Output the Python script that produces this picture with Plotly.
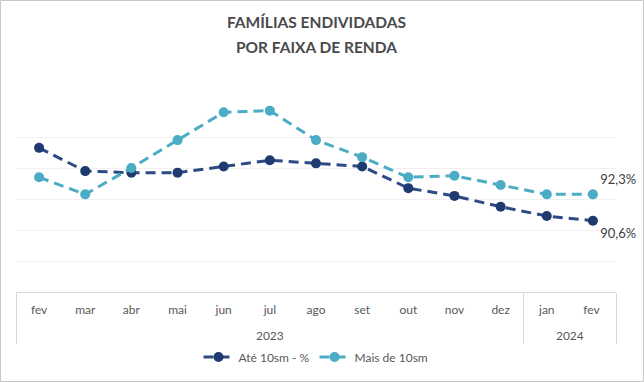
import plotly.graph_objects as go

# "<br>" in front of the year drops the group label one line lower, as in the reference
years = ["<br>2023"] * 11 + ["<br>2024"] * 2
# trailing space keeps the second "fev" a distinct category (SVG trims it when drawn)
months = ["fev", "mar", "abr", "mai", "jun", "jul", "ago", "set", "out", "nov", "dez", "jan", "fev "]
ate_10sm = [95.3, 93.8, 93.7, 93.7, 94.1, 94.5, 94.3, 94.1, 92.7, 92.2, 91.5, 90.9, 90.6]
mais_10sm = [93.4, 92.3, 94.0, 95.8, 97.6, 97.7, 95.8, 94.7, 93.4, 93.5, 92.9, 92.3, 92.3]
series_names = ["Até 10sm - %", "Mais de 10sm"]
title_lines = ["FAMÍLIAS ENDIVIDADAS", "POR FAIXA DE RENDA"]


def last_label(vals):
    out = [""] * len(vals)
    out[-1] = f"{vals[-1]:.1f}".replace(".", ",") + "%"
    return out


W, H = 644, 382
ML, MR, MT, MB = 16, 28, 106, 90
FONT = "Lato"
GRAY = "#595959"
pw = W - ML - MR
ph = H - MT - MB


def py(ypix):
    return (H - MB - ypix) / ph


fig = go.Figure()
fig.add_trace(go.Scatter(
    x=[years, months], y=ate_10sm, name=series_names[0],
    mode="lines+markers+text", text=last_label(ate_10sm),
    textposition="bottom right",
    textfont=dict(family=FONT, size=13, color="#404040"),
    line=dict(color="#2E4A82", width=3, dash="10px,6px"),
    marker=dict(color="#1F3A70", size=10),
    cliponaxis=False,
))
fig.add_trace(go.Scatter(
    x=[years, months], y=mais_10sm, name=series_names[1],
    mode="lines+markers+text", text=last_label(mais_10sm),
    textposition="top right",
    textfont=dict(family=FONT, size=13, color="#404040"),
    line=dict(color="#4BACC6", width=3, dash="10px,6px"),
    marker=dict(color="#4BACC6", size=10),
    cliponaxis=False,
))

for i, t in enumerate(title_lines):
    fig.add_annotation(
        text=f"<b>{t}</b>", xref="paper", yref="paper",
        x=0.5, y=py(22 + 24.5 * i), xanchor="center", yanchor="middle",
        showarrow=False, font=dict(family=FONT, size=15.5, color="#4a4a4a"),
    )

fig.add_shape(
    type="rect", xref="paper", yref="paper",
    x0=-(ML - 0.5) / pw, x1=(W - ML - 0.5) / pw,
    y0=py(H - 0.5), y1=py(0.5),
    line=dict(color="#c8c8c8", width=1), fillcolor="rgba(0,0,0,0)", layer="below",
)

fig.update_layout(
    width=W, height=H,
    margin=dict(l=ML, r=MR, t=MT, b=MB, autoexpand=False),
    paper_bgcolor="white", plot_bgcolor="white",
    showlegend=True,
    legend=dict(orientation="h", x=0.5, xanchor="center",
                y=py(357), yanchor="middle",
                font=dict(family=FONT, size=12, color=GRAY),
                itemwidth=30, tracegroupgap=0),
    font=dict(family=FONT, color=GRAY),
)
fig.update_xaxes(
    type="multicategory", range=[-0.5, len(months) - 0.5],
    showline=True, linecolor="#d9d9d9", linewidth=1,
    showgrid=False, ticks="", ticklabelstandoff=7,
    tickfont=dict(family=FONT, size=12, color=GRAY),
    showdividers=True, dividercolor="#d9d9d9", dividerwidth=1,
)
fig.update_yaxes(
    range=[86, 98], dtick=2, showticklabels=False, showgrid=True,
    gridcolor="#f0f0f0", gridwidth=1, zeroline=False, ticks="",
)

fig.write_html("out.html", post_script="document.body.style.margin='0px';",
               config={"displayModeBar": False})
